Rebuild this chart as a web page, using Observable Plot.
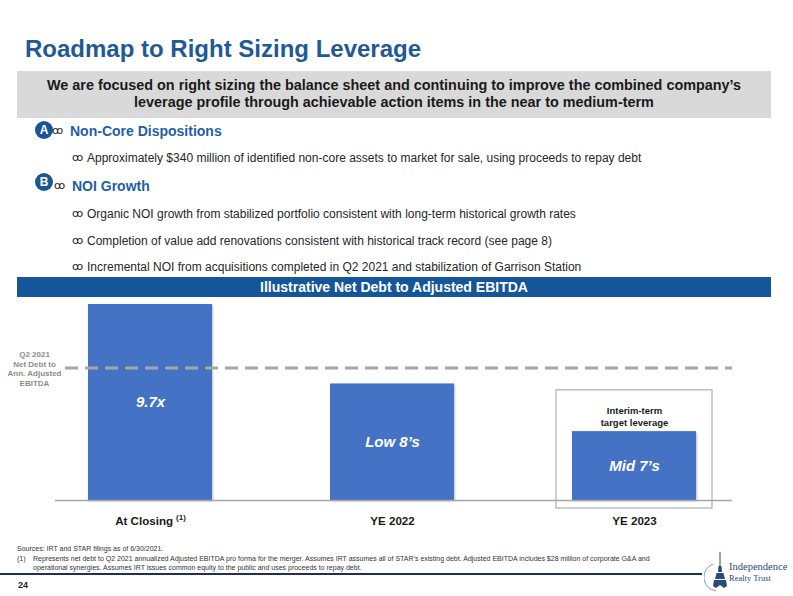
<!DOCTYPE html>
<html><head><meta charset="utf-8">
<script src="https://cdn.jsdelivr.net/npm/d3@7"></script>
<script src="https://cdn.jsdelivr.net/npm/@observablehq/plot@0.6"></script>
<style>
body{margin:0;background:#fff;font-family:"Liberation Sans",Arial,sans-serif;}
#page{position:relative;width:793px;height:596px;overflow:hidden;background:#fff;}
.abs{position:absolute;white-space:nowrap;}
#title{left:25px;top:35px;font-size:24px;font-weight:bold;color:#1f5a96;line-height:28px;}
#intro{left:17px;top:71px;width:754px;height:47px;background:#d9d9d9;text-align:center;font-size:14.4px;font-weight:bold;color:#1a1a1a;line-height:17px;box-sizing:border-box;padding-top:6px;white-space:normal;}
.circ{width:18px;height:18px;border-radius:50%;background:#1a5594;color:#fff;font-weight:bold;font-size:12px;text-align:center;line-height:18px;}
.head{font-size:14px;font-weight:bold;color:#1f5fa6;line-height:16px;}
.bul{font-size:12px;color:#262626;line-height:14px;}
.glyph{color:#262626;font-size:11px;font-family:"DejaVu Sans",sans-serif;}
#band{left:17px;top:277px;width:754px;height:20px;background:#15569a;color:#fff;font-weight:bold;font-size:14px;text-align:center;line-height:20px;}
#chart{left:0;top:297px;}
.foot{font-size:7px;color:#333;line-height:9px;}
</style></head>
<body><div id="page">
<div id="title" class="abs">Roadmap to Right Sizing Leverage</div>
<div id="intro" class="abs">We are focused on right sizing the balance sheet and continuing to improve the combined company’s<br>leverage profile through achievable action items in the near to medium-term</div>

<div class="abs circ" style="left:35px;top:121px;">A</div>
<div class="abs glyph" style="left:52px;top:124px;">ꝏ</div>
<div class="abs head" style="left:70px;top:123px;">Non-Core Dispositions</div>
<div class="abs glyph" style="left:72px;top:151px;">ꝏ</div>
<div class="abs bul" style="left:87px;top:151px;">Approximately $340 million of identified non-core assets to market for sale, using proceeds to repay debt</div>

<div class="abs circ" style="left:35px;top:173px;">B</div>
<div class="abs glyph" style="left:54px;top:179px;">ꝏ</div>
<div class="abs head" style="left:72px;top:178px;">NOI Growth</div>
<div class="abs glyph" style="left:72px;top:207px;">ꝏ</div>
<div class="abs bul" style="left:87px;top:207px;">Organic NOI growth from stabilized portfolio consistent with long-term historical growth rates</div>
<div class="abs glyph" style="left:72px;top:234px;">ꝏ</div>
<div class="abs bul" style="left:87px;top:234px;">Completion of value add renovations consistent with historical track record (see page 8)</div>
<div class="abs glyph" style="left:72px;top:260px;">ꝏ</div>
<div class="abs bul" style="left:87px;top:260px;">Incremental NOI from acquisitions completed in Q2 2021 and stabilization of Garrison Station</div>

<div id="band" class="abs">Illustrative Net Debt to Adjusted EBITDA</div>
<div id="chart" class="abs"></div>

<div class="abs foot" style="left:17px;top:544px;">Sources: IRT and STAR filings as of 6/30/2021.</div>
<div class="abs foot" style="left:17px;top:554px;">(1)</div>
<div class="abs foot" style="left:33px;top:554px;">Represents net debt to Q2 2021 annualized Adjusted EBITDA pro forma for the merger. Assumes IRT assumes all of STAR’s existing debt. Adjusted EBITDA includes $28 million of corporate G&amp;A and<br>operational synergies. Assumes IRT issues common equity to the public and uses proceeds to repay debt.</div>
<div class="abs" style="left:0;top:573px;width:702px;height:1.5px;background:#1f3050;"></div>
<div class="abs" style="left:18px;top:580px;font-size:9px;font-weight:bold;color:#1a1a1a;">24</div>
<svg class="abs" style="left:704px;top:551px;" width="30" height="43" viewBox="0 0 30 43">
  <path d="M9 13 A14 14 0 0 0 12 40" fill="none" stroke="#7f9cc0" stroke-width="1"/>
  <line x1="16" y1="1" x2="16" y2="15" stroke="#2b4a7a" stroke-width="1"/>
  <path d="M14.5 15 L17.5 15 L18 21 L14 21 Z" fill="#2b4a7a"/>
  <path d="M12.5 22 L19.5 22 L21 28 L11 28 Z" fill="#2b4a7a"/>
  <path d="M10 29 L22 29 L23 35 L20 37 L16 34 L12 37 L9 35 Z" fill="#2b4a7a"/>
</svg>
<div class="abs" style="left:729px;top:561px;font-family:'Liberation Serif',serif;font-size:10.5px;color:#2b4a7a;line-height:11px;">Independence<br><span style="font-size:8.5px;">Realty Trust</span></div>
</div>
<script>
const categories = ["At Closing", "YE 2022", "YE 2023"];
const leverage = [9.7, 8.2, 7.3];
const barLabels = ["9.7x", "Low 8’s", "Mid 7’s"];
const q2Level = [8.5];
const q2Label = ["Q2 2021\nNet Debt to\nAnn. Adjusted\nEBITDA"];
const targetCategory = ["YE 2023"];
const targetBoxTop = [8.08];
const targetLabel = ["Interim-term\ntarget leverage"];
const yFloor = 6;

const bars = categories.map((c, i) => ({cat: c, value: leverage[i], label: barLabels[i]}));
const target = targetCategory.map((c, i) => ({cat: c, top: targetBoxTop[i], value: leverage[categories.indexOf(c)], label: targetLabel[i]}));

const chart = Plot.plot({
  width: 793, height: 240,
  marginLeft: 53.5, marginRight: 62.5, marginTop: 7, marginBottom: 37,
  x: {domain: categories, paddingInner: 0.489, paddingOuter: 0.14},
  y: {domain: [yFloor, 9.7], axis: null},
  style: {fontFamily: "Liberation Sans, Arial, sans-serif", background: "transparent", overflow: "visible"},
  marks: [
    Plot.barY(target, {x: "cat", y1: yFloor, y2: "top", insetLeft: -16, insetRight: -16, insetBottom: -8, fill: "none", stroke: "#bfbfbf", strokeWidth: 1.5}),
    Plot.barY(bars, {x: "cat", y1: yFloor, y2: "value", fill: "#4472c4", className: "lev-bar"}),
    Plot.ruleY([yFloor], {stroke: "#a6a6a6", strokeWidth: 1.5, insetLeft: 1.5, insetRight: -1.5}),
    Plot.ruleY(q2Level, {stroke: "#a6a6a6", strokeWidth: 3, strokeDasharray: "13,7", insetLeft: 11.5, insetRight: -1.5}),
    Plot.text(bars, {x: "cat", y: d => (yFloor + d.value) / 2, text: "label", fill: "white", fontSize: 15, fontWeight: "bold", fontStyle: "italic"}),
    Plot.text(target, {x: "cat", y: "value", text: "label", lineAnchor: "bottom", dy: -6, fontSize: 9.5, fontWeight: "bold", fill: "#1a1a1a", lineHeight: 1.26}),
    Plot.text(q2Level, {y: d => d, frameAnchor: "left", dx: -19.5, dy: 0.5, text: () => q2Label[0], textAnchor: "middle", fontSize: 8, fontWeight: "bold", fill: "#8c8c8c", lineHeight: 1.18}),
    Plot.axisX({tickSize: 0, tickPadding: 16, fontSize: 11.6, fontWeight: "bold", fill: "#1a1a1a", label: null})
  ]
});
document.getElementById("chart").appendChild(chart);
d3.select(chart).selectAll("g.lev-bar rect").style("filter", "drop-shadow(1.5px 1.5px 1px rgba(0,0,0,0.25))");
d3.select(chart).selectAll("text").each(function() {
  if (this.textContent === "At Closing") {
    d3.select(this).append("tspan").attr("dx", 3).attr("dy", -5).attr("font-size", 8).text("(1)");
  }
});
</script>
</body></html>
